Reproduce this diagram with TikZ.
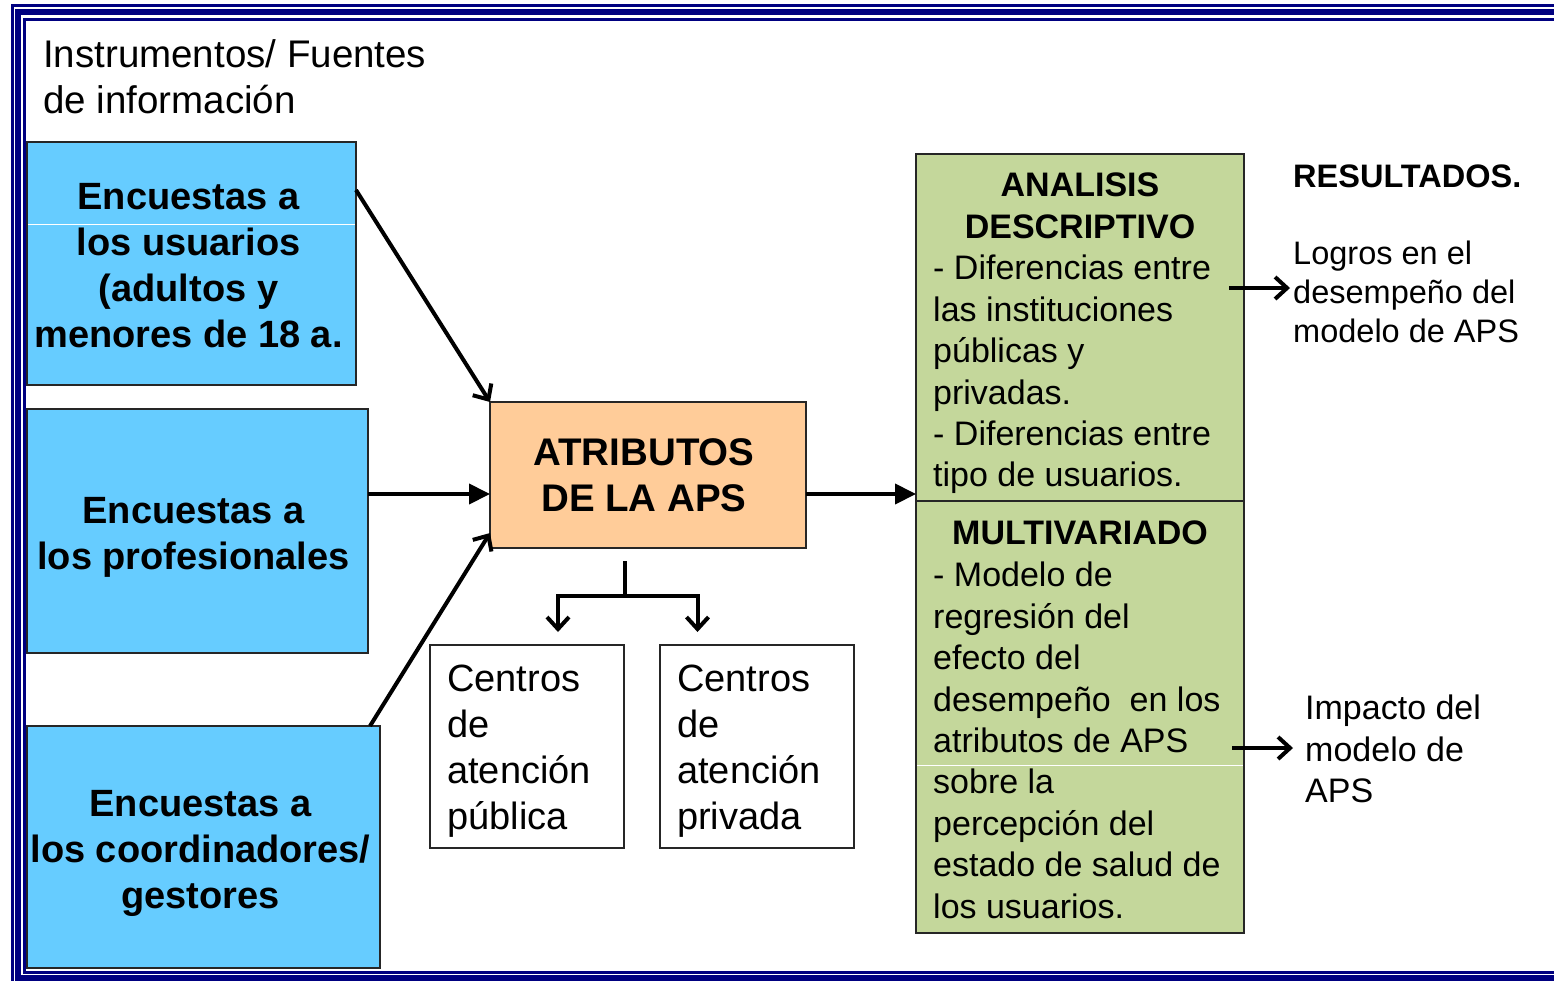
\documentclass[tikz,border=0pt]{standalone}
\usepackage{fontspec}
\setmainfont{Liberation Sans}
\usetikzlibrary{positioning,arrows.meta}

\definecolor{marco}{RGB}{0,0,128}
\definecolor{azulsrc}{RGB}{102,204,255}
\definecolor{naranja}{RGB}{255,204,153}
\definecolor{verde}{RGB}{196,215,155}

\newcommand{\fbig}{\fontsize{38}{46}\selectfont}
\newcommand{\fmid}{\fontsize{34}{41.4}\selectfont}
\newcommand{\fres}{\fontsize{32.5}{39}\selectfont}

\begin{document}
\begin{tikzpicture}[x=1pt,y=-1pt,
    src/.style = {draw=black!85, line width=1.5pt, fill=azulsrc, inner sep=0pt,
                  outer sep=0pt, anchor=north west},
    srctxt/.style = {inner sep=0pt, align=center, font=\fbig\bfseries},
    attr/.style = {draw=black!85, line width=1.5pt, fill=naranja, inner sep=0pt,
                   outer sep=0pt, anchor=north west},
    centro/.style = {draw=black!85, line width=1.5pt, fill=white, outer sep=0pt,
                     minimum width=194pt, minimum height=203pt, anchor=north west},
    centrotxt/.style = {inner sep=0pt, align=left, font=\fbig, anchor=north west},
    caja/.style = {draw=black!85, line width=2pt, fill=verde, inner sep=0pt,
                   outer sep=0pt, minimum width=328pt},
    titulo/.style = {inner sep=0pt, align=center, font=\fmid\bfseries, anchor=north},
    cuerpo/.style = {inner sep=0pt, align=left, font=\fmid, anchor=north west},
    flecha/.style = {line width=4pt, -{Triangle[length=21pt,width=20pt]}},
    barb/.style = {line width=4pt, -{Straight Barb[length=12pt,width=22pt]}}]
  \useasboundingbox (0,0) rectangle (1554,980);
  \clip (0,0) rectangle (1554,980);

  % marco
  \draw[marco, line width=3pt] (12,5.5) rectangle (1580,985);
  \draw[marco, line width=6pt] (17.8,12.3) rectangle (1575,978);
  \draw[marco, line width=3pt] (24,19) rectangle (1570,972.5);

  \node[inner sep=0pt, align=left, font=\fontsize{38.5}{46}\selectfont, anchor=north west]
    (fuentes) at (43,39) {Instrumentos/ Fuentes\\de información};

  % encuestas
  \node[src, minimum width=329pt, minimum height=243pt] (usu) at (27,142) {};
  \node[src, minimum width=341pt, minimum height=244pt] (prof) at (27,409) {};
  \node[src, minimum width=353pt, minimum height=242pt] (coor) at (27,726) {};
  \draw[white, line width=1pt] ([xshift=1pt,yshift=39.5pt]usu.west) -- ([xshift=-1pt,yshift=39.5pt]usu.east);
  \node[srctxt] (usutxt) at ([xshift=-3pt,yshift=-2pt]usu.center)
    {Encuestas a\\los usuarios\\(adultos y\\menores de 18 a.};
  \node[srctxt] (proftxt) at ([xshift=-4pt,yshift=-6pt]prof.center)
    {Encuestas a\\los profesionales};
  \node[srctxt] (coortxt) at ([xshift=-3pt,yshift=-6pt]coor.center)
    {Encuestas a\\los coordinadores/\\gestores};

  \node[attr, minimum width=316pt, minimum height=146pt] (attr) at (490,402) {};
  \node[inner sep=0pt, align=center, font=\fontsize{38.5}{46}\selectfont\bfseries]
    (attrtxt) at ([xshift=-4pt]attr.center) {ATRIBUTOS\\DE LA APS};

  \node[centro] (pub) at (430,645) {};
  \node[centro] (priv) at (660,645) {};
  \node[centrotxt] (pubtxt) at ([xshift=17pt,yshift=-20pt]pub.north west)
    {Centros\\de\\atención\\pública};
  \node[centrotxt] (privtxt) at ([xshift=17pt,yshift=-20pt]priv.north west)
    {Centros\\de\\atención\\privada};

  % analisis
  \node[caja, minimum height=347pt, anchor=north west] (ana) at (916,154) {};
  \node[caja, minimum height=432pt, below=0pt of ana] (multi) {};
  \draw[white, line width=1pt] ([xshift=1pt,yshift=-48pt]multi.west) -- ([xshift=-1pt,yshift=-48pt]multi.east);
  \node[titulo] (anatit) at ([yshift=-19pt]ana.north) {ANALISIS\\DESCRIPTIVO};
  \node[cuerpo] (anatxt) at ([xshift=17pt,yshift=-101pt]ana.north west)
    {- Diferencias entre\\las instituciones\\públicas y\\privadas.\\- Diferencias entre\\tipo de usuarios.};
  \node[titulo] (multit) at ([yshift=-20pt]multi.north) {MULTIVARIADO};
  \node[cuerpo] (multxt) at ([xshift=17pt,yshift=-61pt]multi.north west)
    {- Modelo de\\regresión del\\efecto del\\desempeño\ \ en los\\atributos de APS\\sobre la\\percepción del\\estado de salud de\\los usuarios.};

  % resultados
  \node[inner sep=0pt, font=\fres\bfseries, anchor=north west] (resul) at (1293,164.5) {RESULTADOS.};
  \node[inner sep=0pt, align=left, font=\fres, anchor=north west] (logros) at (1293,241)
    {Logros en el\\desempeño del\\modelo de APS};
  \node[inner sep=0pt, align=left, font=\fmid, anchor=north west] (impacto) at (1305,695)
    {Impacto del\\modelo de\\APS};

  % conectores
  \coordinate (eje) at (0,494);
  \coordinate (r1) at (0,288);
  \coordinate (r2) at (0,748);
  \draw[barb] ([yshift=73.5pt]usu.east) -- (attr.north west);
  \draw[flecha] (prof.east |- eje) -- (attr.west |- eje);
  \draw[barb] ([xshift=-10pt]coor.north east) -- ([yshift=15pt]attr.south west);
  \draw[flecha] (attr.east |- eje) -- (ana.west |- eje);
  \draw[line width=4pt] ([xshift=-23pt,yshift=-13pt]attr.south) -- ++(0,35) coordinate (rama);
  \draw[barb] (rama) -| ([xshift=31pt,yshift=13pt]pub.north);
  \draw[barb] (rama) -| ([xshift=-59.5pt,yshift=13pt]priv.north);
  \draw[barb] ([xshift=-15pt]ana.east |- r1) -- ([xshift=-3pt]logros.west |- r1);
  \draw[barb] ([xshift=-12pt]multi.east |- r2) -- ([xshift=-12pt]impacto.west |- r2);
\end{tikzpicture}
\end{document}
